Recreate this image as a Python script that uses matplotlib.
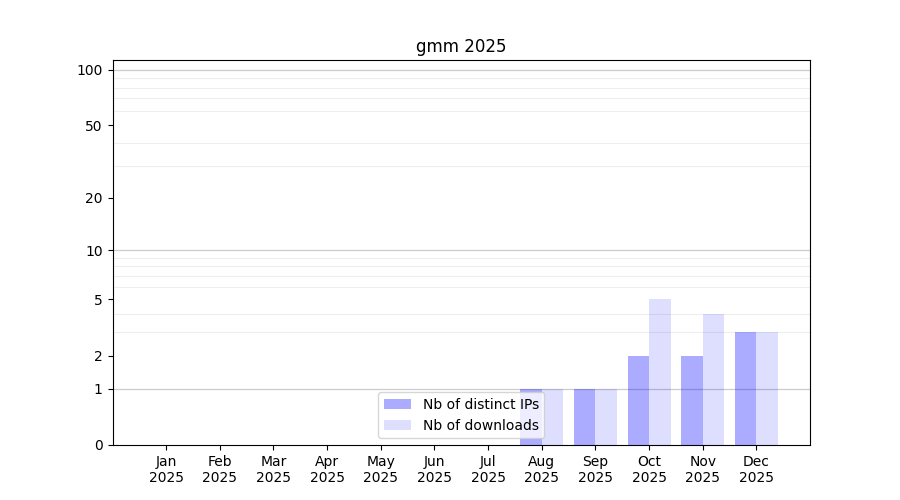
import numpy as np
import matplotlib
matplotlib.use("Agg")
import matplotlib.pyplot as plt

months = ["Jan", "Feb", "Mar", "Apr", "May", "Jun", "Jul",
          "Aug", "Sep", "Oct", "Nov", "Dec"]
year = "2025"
distinct_ips = [0, 0, 0, 0, 0, 0, 0, 1, 1, 2, 2, 3]
downloads = [0, 0, 0, 0, 0, 0, 0, 1, 1, 5, 4, 3]
ytick_values = [0, 1, 2, 5, 10, 20, 50, 100]
minor_values = [2, 3, 4, 5, 6, 7, 8, 9, 20, 30, 40, 50, 60, 70, 80, 90]
major_grid = [1, 10, 100]


def forward(v):
    return np.log10(1 + np.maximum(v, 0))


def inverse(v):
    return 10 ** v - 1


fig, ax = plt.subplots(figsize=(9, 5), dpi=100)

x = np.arange(len(months))
ax.bar(x, distinct_ips, width=-0.4, align="edge", color="blue", alpha=0.33,
       label="Nb of distinct IPs", zorder=2)
ax.bar(x, downloads, width=0.4, align="edge", color="blue", alpha=0.13,
       label="Nb of downloads", zorder=2)

ax.set_yscale("function", functions=(forward, inverse))
ax.set_ylim(0, 113)
ax.set_xlim(-1, len(months))

ax.set_yticks(ytick_values)
ax.set_yticklabels([str(v) for v in ytick_values])
ax.set_yticks(minor_values, minor=True)
ax.tick_params(axis="y", which="minor", length=0)
ax.grid(axis="y", which="minor", color="#eeeeee", linewidth=0.8, zorder=0)
for v in major_grid:
    ax.axhline(v, color="#cccccc", linewidth=0.9, zorder=1)

ax.set_xticks(x)
ax.set_xticklabels([f"{m}\n{year}" for m in months])

ax.set_title("gmm 2025")
ax.legend(loc="lower center")

plt.savefig("out.png", dpi=100)
